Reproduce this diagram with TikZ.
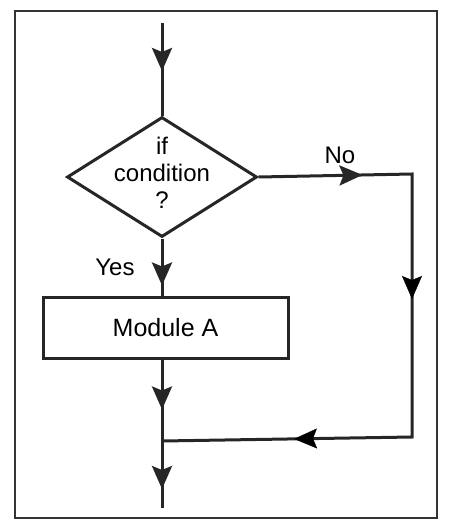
\documentclass[tikz,border=0pt]{standalone}
\usepackage{fontspec}
\setmainfont{Liberation Sans}
\usetikzlibrary{shapes.geometric,arrows.meta,decorations.markings}
\tikzset{
  flow/.style={line width=3pt, draw=black!85},
  tip/.tip={Stealth[length=23pt,width=20pt,inset=4pt]},
  midarrow/.style={postaction={decorate},
    decoration={markings, mark=at position #1 with {\arrow{tip}}}},
  decision/.style={diamond, draw=black!85, line width=3pt, inner sep=0pt,
    minimum width=190pt, minimum height=120pt, font=\fontsize{24}{27}\selectfont},
  process/.style={rectangle, draw=black!85, line width=3pt,
    minimum width=245pt, minimum height=61pt, font=\fontsize{25}{28}\selectfont},
  lbl/.style={font=\fontsize{24}{27}\selectfont, inner sep=0pt}
}
\begin{document}
\begin{tikzpicture}[x=1pt,y=-1pt]
  \useasboundingbox (0,0) rectangle (448,523);
  % outer frame
  \draw[line width=2.8pt, draw=black!80] (15,11) rectangle (437,518);
  % nodes
  \coordinate (start) at (162,23);
  \node[decision] (dec) at (162,177)
    {\smash{\raisebox{-5pt}{\begin{tabular}{@{}c@{}}if\\condition\\?\end{tabular}}}};
  \node[process] (modA) at (165.5,327.5) {Module A};
  \coordinate (ncorner) at (412,174);
  \coordinate (scorner) at (412,437);
  \coordinate (join) at (162,441);
  \coordinate (stop) at (162,508);
  % labels
  \node[lbl] (nolbl) at (340,155) {No};
  \node[lbl] (yeslbl) at (115,267) {Yes};
  % connectors
  \draw[flow, midarrow=48pt] (start) -- (dec.north);
  \draw[flow, midarrow=47pt] (dec.south) -- (dec.south |- modA.north);
  \draw[flow, midarrow=104pt] (dec.east) -- (ncorner) -- (scorner) -- (join);
  \draw[flow, midarrow=50pt] (modA.south -| join) -- (join);
  \draw[flow, midarrow=48pt] (join) -- (stop);
  % further mid arrows on the No branch
  \path[postaction={decorate}, decoration={markings,
      mark=at position 125pt with {\arrow{tip}}}] (ncorner) -- (scorner);
  \path[postaction={decorate}, decoration={markings,
      mark=at position 118pt with {\arrow{tip}}}] (scorner) -- (join);
\end{tikzpicture}
\end{document}
